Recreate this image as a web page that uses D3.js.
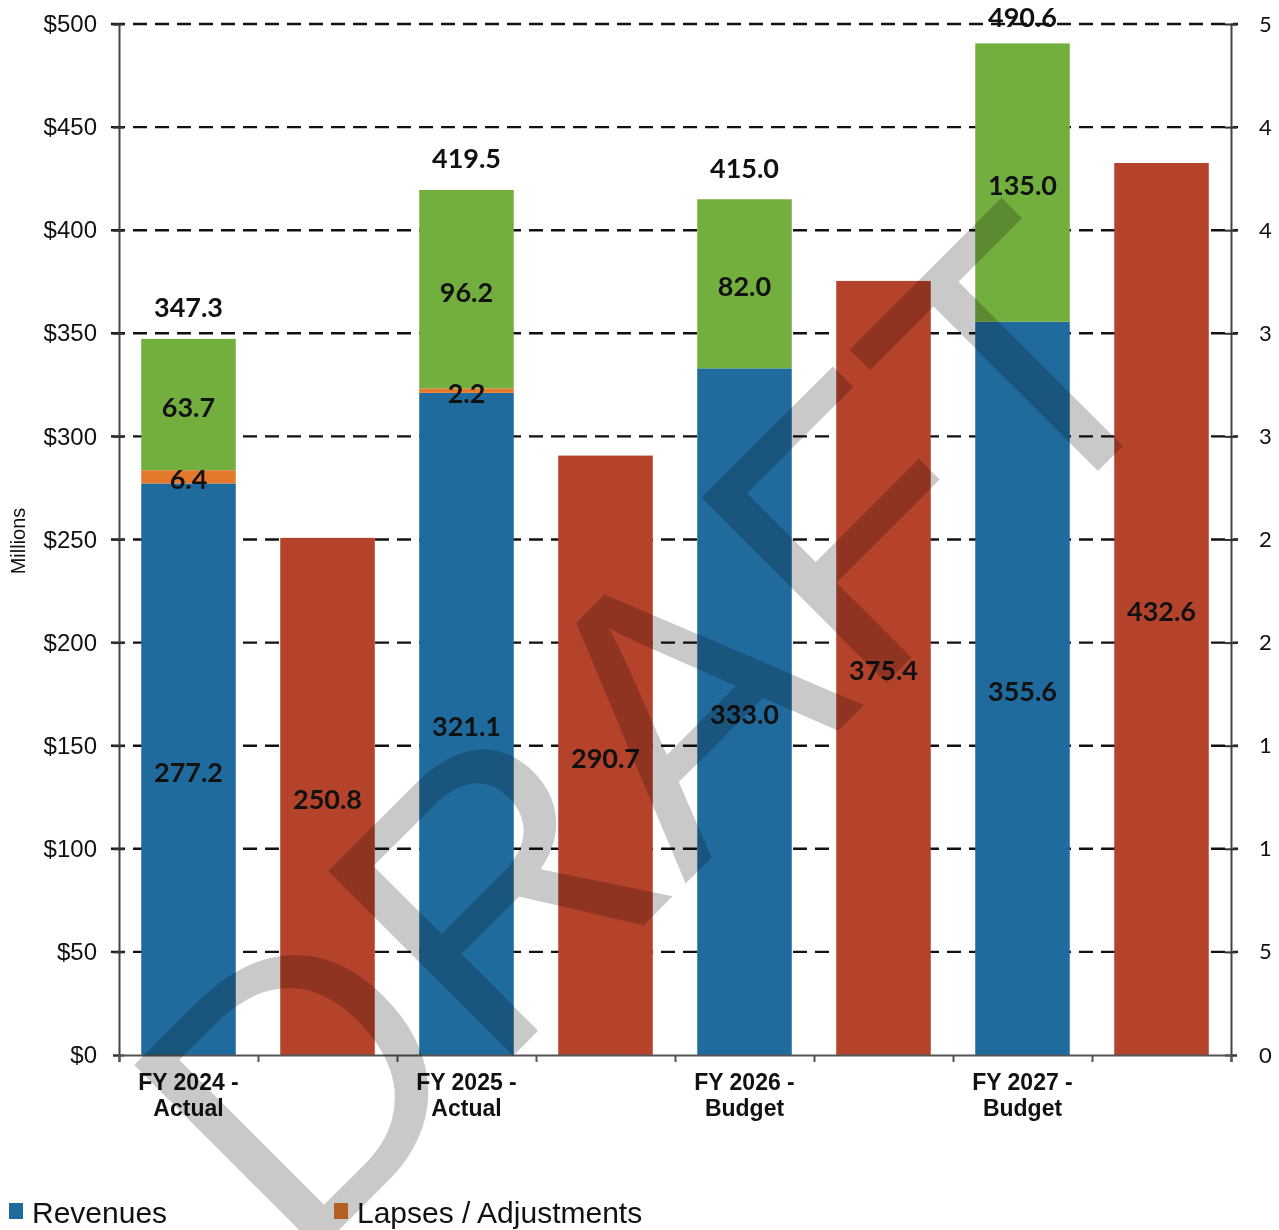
<!DOCTYPE html>
<html>
<head>
<meta charset="utf-8">
<script src="https://cdn.jsdelivr.net/npm/d3@7"></script>
<style>
  html, body { margin: 0; padding: 0; background: #fff; }
  svg { display: block; }
</style>
</head>
<body>
<div id="chart"></div>
<script>
// ---- data ----
const categories = ["FY 2024 - Actual", "FY 2025 - Actual", "FY 2026 - Budget", "FY 2027 - Budget"];
const categoryLines = [["FY 2024 -", "Actual"], ["FY 2025 -", "Actual"], ["FY 2026 -", "Budget"], ["FY 2027 -", "Budget"]];
const revenues = [277.2, 321.1, 333.0, 355.6];
const lapses = [6.4, 2.2, 0, 0];
const fundBalance = [63.7, 96.2, 82.0, 135.0];
const totals = [347.3, 419.5, 415.0, 490.6];
const expenditures = [250.8, 290.7, 375.4, 432.6];
const leftTickValues = [0, 50, 100, 150, 200, 250, 300, 350, 400, 450, 500];
const leftTickLabels = ["$0", "$50", "$100", "$150", "$200", "$250", "$300", "$350", "$400", "$450", "$500"];
const rightTickLabels = ["0", "5", "1", "1", "2", "2", "3", "3", "4", "4", "5"];
const legendItems = ["Revenues", "Lapses / Adjustments"];
const watermark = "DRAFT";

// ---- layout ----
const W = 1279, H = 1230;
const plot = { left: 119, right: 1231, top: 24, bottom: 1055 };
const colors = { rev: "#1F6B9D", lapse: "#E5792B", fund: "#73AF3E", exp: "#B5422A" };

const svg = d3.select("#chart").append("svg").attr("width", W).attr("height", H);

const y = d3.scaleLinear().domain([0, 500]).range([plot.bottom, plot.top]);
const slots = d3.range(categories.length * 2);
const x = d3.scaleBand().domain(slots).range([plot.left, plot.right]).paddingInner(0.32).paddingOuter(0.16);
const xEdge = d3.scaleLinear().domain([0, slots.length]).range([plot.left, plot.right]);

// gridlines (dashed)
svg.append("g").selectAll("line").data(leftTickValues.filter(v => v > 0)).join("line")
  .attr("x1", plot.left - 8).attr("x2", plot.right + 7)
  .attr("y1", d => y(d)).attr("y2", d => y(d))
  .attr("stroke", "#111").attr("stroke-width", 2.4).attr("stroke-dasharray", "14,8");

// build stacked data
const stackRows = categories.map((c, i) => ({ slot: 2 * i, rev: revenues[i], lapse: lapses[i], fund: fundBalance[i] }));
const stack = d3.stack().keys(["rev", "lapse", "fund"])(stackRows);

const bars = svg.append("g");
stack.forEach(layer => {
  bars.append("g").attr("fill", colors[layer.key]).selectAll("rect").data(layer).join("rect")
    .attr("x", d => x(d.data.slot))
    .attr("width", x.bandwidth())
    .attr("y", d => y(d[1]))
    .attr("height", d => y(d[0]) - y(d[1]));
});
bars.append("g").attr("fill", colors.exp).selectAll("rect").data(expenditures).join("rect")
  .attr("x", (d, i) => x(2 * i + 1))
  .attr("width", x.bandwidth())
  .attr("y", d => y(d))
  .attr("height", d => y(0) - y(d));

// axes
const leftAxis = svg.append("g").attr("transform", `translate(${plot.left},0)`)
  .call(d3.axisLeft(y).tickValues(leftTickValues).tickFormat((d, i) => leftTickLabels[i]).tickSize(6).tickPadding(16));
leftAxis.select(".domain").attr("stroke", "#444").attr("stroke-width", 2);
leftAxis.selectAll(".tick line").attr("stroke", "#333").attr("stroke-width", 2).attr("x2", 5).attr("x1", -6);
leftAxis.selectAll(".tick text").attr("font-family", "Liberation Sans, Arial, sans-serif").attr("font-size", 24).attr("fill", "#111");

const rightAxis = svg.append("g").attr("transform", `translate(${plot.right},0)`)
  .call(d3.axisRight(y).tickValues(leftTickValues).tickFormat((d, i) => rightTickLabels[i]).tickSize(6).tickPadding(22));
rightAxis.select(".domain").attr("stroke", "#444").attr("stroke-width", 2);
rightAxis.selectAll(".tick line").attr("stroke", "#333").attr("stroke-width", 2).attr("x1", -6).attr("x2", 6);
rightAxis.selectAll(".tick text").attr("font-family", "Lato, 'Open Sans', sans-serif").attr("font-size", 22).attr("fill", "#111");

const bottomAxis = svg.append("g").attr("transform", `translate(0,${plot.bottom})`)
  .call(d3.axisBottom(xEdge).tickValues(d3.range(slots.length + 1)).tickFormat("").tickSize(7));
bottomAxis.select(".domain").attr("stroke", "#555").attr("stroke-width", 2.2);
bottomAxis.selectAll(".tick line").attr("stroke", "#555").attr("stroke-width", 2);

// category labels
const catG = svg.append("g").attr("font-family", "Liberation Sans, Arial, sans-serif").attr("font-weight", "bold")
  .attr("font-size", 23).attr("fill", "#111").attr("text-anchor", "middle");
categoryLines.forEach((lines, i) => {
  const t = catG.append("text").attr("x", x(2 * i) + x.bandwidth() / 2).attr("y", plot.bottom + 35);
  lines.forEach((l, j) => t.append("tspan").attr("x", x(2 * i) + x.bandwidth() / 2).attr("dy", j === 0 ? 0 : 26).text(l));
});

// y axis title
svg.append("text").attr("transform", `translate(25,541) rotate(-90)`)
  .attr("text-anchor", "middle").attr("font-family", "Liberation Sans, Arial, sans-serif").attr("font-size", 20)
  .attr("fill", "#111").text("Millions");

// data labels
const labG = svg.append("g").attr("font-family", "Lato, 'Open Sans', sans-serif").attr("font-weight", "bold")
  .attr("font-size", 27).attr("fill", "#111").attr("text-anchor", "middle").attr("dominant-baseline", "central");
stack.forEach(layer => {
  layer.forEach(d => {
    const v = d[1] - d[0];
    if (v <= 0) return;
    labG.append("text").attr("x", x(d.data.slot) + x.bandwidth() / 2).attr("y", y((d[0] + d[1]) / 2) + 2)
      .text(v.toFixed(1));
  });
});
expenditures.forEach((v, i) => {
  labG.append("text").attr("x", x(2 * i + 1) + x.bandwidth() / 2).attr("y", y(v / 2) + 2).text(v.toFixed(1));
});
totals.forEach((v, i) => {
  labG.append("text").attr("x", x(2 * i) + x.bandwidth() / 2).attr("y", Math.max(16, y(v) - 32)).text(v.toFixed(1));
});

// legend
const legG = svg.append("g").attr("font-family", "Liberation Sans, Arial, sans-serif").attr("font-size", 30).attr("fill", "#111");
const legendX = [9, 334];
const legendColors = [colors.rev, colors.lapse];
legendItems.forEach((name, i) => {
  legG.append("rect").attr("x", legendX[i]).attr("y", 1203).attr("width", 14).attr("height", 16).attr("fill", legendColors[i]);
  legG.append("text").attr("x", legendX[i] + 23).attr("y", 1223).text(name);
});

// watermark (single-stroke style letters, semi-transparent grey)
svg.append("text")
  .attr("transform", "translate(297,1272) rotate(-45)")
  .attr("text-anchor", "start")
  .attr("font-family", "Liberation Sans, Arial, sans-serif")
  .attr("font-size", 380)
  .attr("fill", "#7e7e7e")
  .attr("opacity", 0.42)
  .style("mix-blend-mode", "multiply")
  .text(watermark);
</script>
</body>
</html>
